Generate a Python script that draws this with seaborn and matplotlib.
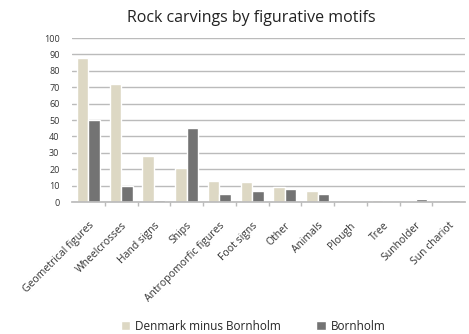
import matplotlib
matplotlib.use("Agg")
import matplotlib.pyplot as plt
import seaborn as sns
import pandas as pd

categories = ["Geometrical figures", "Wheelcrosses", "Hand signs", "Ships",
              "Antropomorfic figures", "Foot signs", "Other", "Animals",
              "Plough", "Tree", "Sunholder", "Sun chariot"]
denmark = [88, 72, 28, 21, 13, 12, 9, 7, 1, 1, 0.5, 0]
bornholm = [50, 10, 1, 45, 5, 7, 8, 5, 0.3, 0, 2, 1]
series = ["Denmark minus Bornholm", "Bornholm"]

df = pd.DataFrame({
    "motif": categories * 2,
    "value": denmark + bornholm,
    "series": [series[0]] * len(categories) + [series[1]] * len(categories),
})

sns.set_theme(style="white")
plt.rcParams['font.family'] = ['Open Sans', 'DejaVu Sans']

fig = plt.figure(figsize=(4.69, 3.34), dpi=100)
ax = fig.add_axes([72/469, 1 - 202/334, (465-72)/469, (202-38)/334])

sns.barplot(data=df, x="motif", y="value", hue="series",
            palette=["#ddd8c4", "#737373"], ax=ax, width=0.7, saturation=1,
            legend=True)

ax.set_ylim(0, 100)
ax.set_yticks(range(0, 101, 10))
ax.yaxis.grid(True, color="#bbbbbb", linewidth=1)
ax.set_axisbelow(True)
for s in ["top", "right", "left"]:
    ax.spines[s].set_visible(False)
ax.spines["bottom"].set_color("#bbbbbb")
ax.set_xlabel("")
ax.set_ylabel("")
ax.tick_params(axis="y", labelsize=6.5, colors="#333333", length=0, pad=9)
ax.tick_params(axis="x", labelsize=7.5, colors="#333333", length=0, pad=13)
plt.setp(ax.get_xticklabels(), rotation=45, ha="right", rotation_mode="anchor")
ax.set_xlim(-0.5, len(categories) - 0.5)
# minor ticks between categories
ax.set_xticks([i + 0.5 for i in range(len(categories) - 1)], minor=True)
ax.tick_params(axis="x", which="minor", length=3, color="#bbbbbb", bottom=True)

fig.text(0.535, 1 - 18/334, "Rock carvings by figurative motifs", ha="center",
         va="center", fontsize=11.5, color="#222222")

ax.legend(loc="center", bbox_to_anchor=(0.54, (1 - 326/334)), bbox_transform=fig.transFigure,
          ncol=2, frameon=False, fontsize=8.5, handlelength=0.8, handleheight=0.8,
          columnspacing=3.0, handletextpad=0.4)

fig.savefig("out.png", dpi=100, facecolor="white")
